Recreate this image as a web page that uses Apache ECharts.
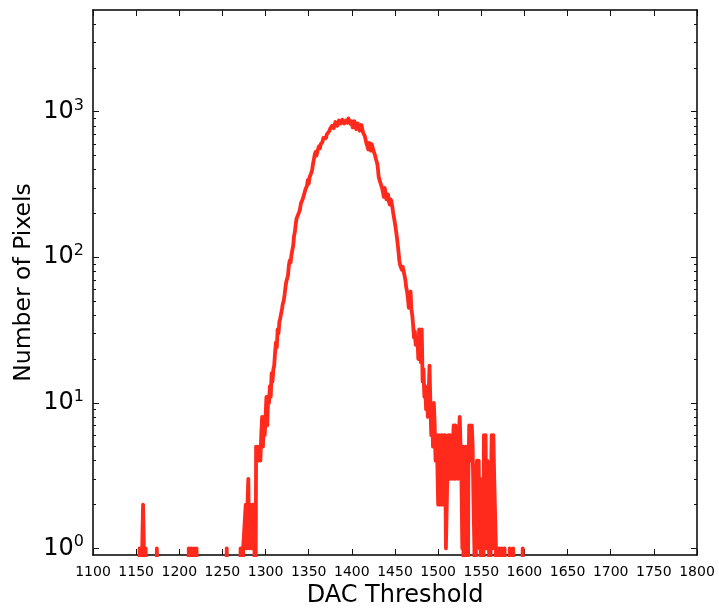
<!DOCTYPE html>
<html>
<head>
<meta charset="utf-8">
<script src="https://cdn.jsdelivr.net/npm/echarts@6/dist/echarts.min.js"></script>
<style>html,body{margin:0;padding:0;background:#fff;}#c{width:719px;height:611px;}</style>
</head>
<body>
<div id="c"></div>
<script>
// Values; a count of 0 means no pixels at that DAC threshold.
// Sparse low-threshold part (explicit DAC values)
const lowDac = [
 1153,1154,1155,1156,1157,1158,1159,1160,1161,1162,1163,
 1173,1174,1175,
 1210,1211,1212,1213,1214,1215,1216,1217,1218,1219,1220,1221,1222,
 1254,1255,1256,
 1270,1271,1272,1273,1274,1275,1276,1277,1278,1279,1280,1281,1282,1283,1284,1285,1286,1287,1288,1289,
 1290,1291,1292,1293,1294,1295,1296,1297,1298,1299,1300,1301,1302,1303,1304,1305,1306,1307,1308,1309,1310
];
const lowCounts = [
 0,1,1,0,1,2,1,0,1,1,0,
 0,1,0,
 0,1,1,0,1,1,0,1,1,0,1,1,0,
 0,1,0,
 0,1,1,0,1,1,1,2,1,2,3,1,2,2,1,2,1,2,0,5,
 4,5,4,5,4,6,8,5,8,6,8,11,7,11,10,13,11,16,14,17,18
];
// Main peak, one value per DAC step starting at bodyStartDac
const bodyStartDac = 1311;
const bodyCounts = [
 22,26,24,32,30,36,38,37,44,48,
 50,55,62,68,66,75,88,95,92,104,
 112,120,140,150,170,185,180,190,205,215,
 235,228,250,245,275,290,300,310,340,320,
 355,350,380,400,440,470,510,530,500,530,
 560,580,560,600,590,620,660,680,640,660,
 700,710,690,740,770,760,800,790,770,810,
 850,840,800,820,870,860,830,850,880,870,
 830,850,870,880,840,900,860,850,820,860,
 780,800,860,840,760,770,830,820,740,760,
 810,790,720,700,680,640,600,580,550,610,
 590,540,600,570,540,520,500,470,450,420,
 360,340,345,330,300,280,260,300,280,250,
 260,270,240,230,250,240,220,200,185,170,
 155,140,125,110,95,88,86,82,86,85,
 75,70,62,58,52,45,55,58,44,40,
 34
];
// Noisy tail, one value per DAC step starting at tailStartDac
const tailStartDac = 1472;
const tailCounts = [
 28,31,25,27,28,20,32,22,19,32,
 14,17,11,13,9,12,8,11,18,10,
 6,9,5,10,7,4,6,4,2,6,
 3,2,6,2,6,4,6,1,2,4,
 6,3,6,4,3,5,7,3,7,4,
 5,3,6,8,5,3,1,5,0,3,
 5,2,0,3,7,6,4,7,5,2,
 1,0,3,4,2,4,1,3,0,1,
 0,6,3,6,1,4,3,1,0,2,
 6,1,6,3,3,1,0,1,0,1,
 1,0,1,1,0,1,0
];
// Last isolated counts
const endDac = [1582,1583,1584,1586,1587,1588,1597,1598,1599];
const endCounts = [0,1,0,0,1,0,0,1,0];

const xTickValues = [1100,1150,1200,1250,1300,1350,1400,1450,1500,1550,1600,1650,1700,1750,1800];
const yMajorTicks = [1, 10, 100, 1000];
const yMinorTicks = [2,3,4,5,6,7,8,9,20,30,40,50,60,70,80,90,200,300,400,500,600,700,800,900,2000,3000,4000];
const exponentOf = {1: '0', 10: '1', 100: '2', 1000: '3'};

const FONT = 'DejaVu Sans';
const BLACK = '#000';

const dacThreshold = lowDac
  .concat(bodyCounts.map((_, i) => bodyStartDac + i))
  .concat(tailCounts.map((_, i) => tailStartDac + i))
  .concat(endDac);
const pixelCounts = lowCounts.concat(bodyCounts, tailCounts, endCounts);
// zero counts are drawn below the axis floor (clipped), as on a clipped log plot
const seriesData = dacThreshold.map((d, i) => [d, pixelCounts[i] > 0 ? pixelCounts[i] : 0.05]);

function yAxisDef(pos, values, len, labels, lineShow) {
  return {
    type: 'log', logBase: 10, position: pos, min: 0.9, max: 5000,
    axisLine: {show: lineShow, onZero: false, lineStyle: {color: BLACK, width: 1.5}},
    axisTick: {show: true, inside: true, length: len, customValues: values, lineStyle: {color: '#111', width: 1}},
    axisLabel: labels ? {
      show: true, customValues: values, margin: 9,
      formatter: v => '{b|10}{s|' + exponentOf[Math.round(v)] + '}',
      rich: {
        b: {fontSize: 24, fontFamily: FONT, color: BLACK},
        s: {fontSize: 16, fontFamily: FONT, color: BLACK, padding: [0, 0, 12, 0]}
      }
    } : {show: false},
    splitLine: {show: false}, minorTick: {show: false},
    name: labels ? 'Number of Pixels' : '',
    nameLocation: 'middle', nameGap: 57, nameRotate: 90, nameMoveOverlap: false,
    nameTextStyle: {fontSize: 23.5, fontFamily: FONT, color: BLACK}
  };
}
function xAxisDef(pos, labels) {
  return {
    type: 'value', position: pos, min: 1100, max: 1800, interval: 50,
    axisLine: {show: true, onZero: false, lineStyle: {color: BLACK, width: 1.5}},
    axisTick: {show: true, inside: true, length: 6, customValues: xTickValues, lineStyle: {color: '#111', width: 1}},
    axisLabel: labels ? {show: true, customValues: xTickValues, formatter: v => String(v),
      fontSize: 14, fontFamily: FONT, color: BLACK, margin: 10} : {show: false},
    splitLine: {show: false},
    name: labels ? 'DAC Threshold' : '',
    nameLocation: 'middle', nameGap: 29, nameMoveOverlap: false,
    nameTextStyle: {fontSize: 24, fontFamily: FONT, color: BLACK}
  };
}

const chart = echarts.init(document.getElementById('c'), null, {renderer: 'canvas'});
chart.setOption({
  animation: false,
  backgroundColor: '#fff',
  grid: {left: 93, right: 22, top: 10, bottom: 56, containLabel: false, outerBoundsMode: 'none'},
  xAxis: [xAxisDef('bottom', true), xAxisDef('top', false)],
  yAxis: [
    yAxisDef('left', yMajorTicks, 6, true, true),
    yAxisDef('left', yMinorTicks, 3, false, false),
    yAxisDef('right', yMajorTicks, 6, false, true),
    yAxisDef('right', yMinorTicks, 3, false, false)
  ],
  series: [{
    type: 'line', xAxisIndex: 0, yAxisIndex: 0,
    data: seriesData, showSymbol: false, symbol: 'none',
    clip: true,
    lineStyle: {color: '#ff2a1c', width: 3.8, join: 'round', cap: 'round'}
  }]
});
</script>
</body>
</html>
